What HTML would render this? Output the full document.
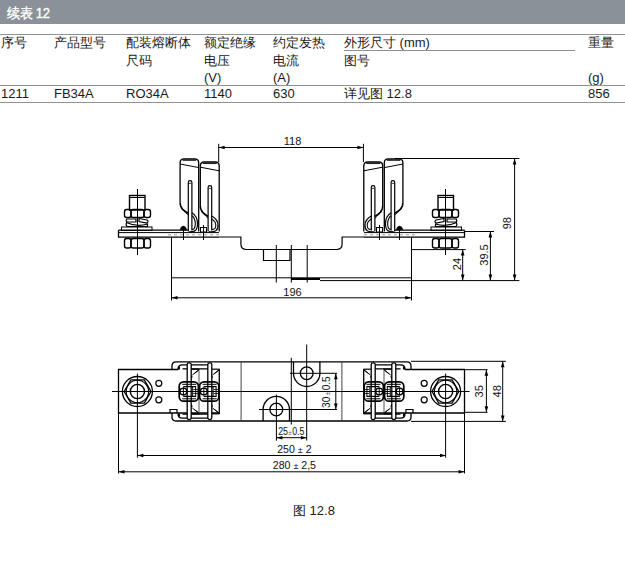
<!DOCTYPE html>
<html><head><meta charset="utf-8">
<style>
html,body{margin:0;padding:0;background:#fff;}
body{width:625px;height:580px;position:relative;overflow:hidden;font-family:"Liberation Sans",sans-serif;color:#1a1a1a;}
.bar{position:absolute;left:0;top:0;width:625px;height:24px;background:#8a9199;}
.bar span{position:absolute;left:7px;top:4px;font-size:13px;color:#fff;letter-spacing:-0.3px;-webkit-text-stroke:0.35px #fff;transform:scaleY(1.08);transform-origin:0 0;}
.hl{position:absolute;left:0;width:625px;height:1px;background:#8d9396;}
.t{position:absolute;font-size:13px;white-space:nowrap;line-height:17.5px;}
svg{position:absolute;left:0;top:0;}
</style></head><body>
<div class="bar"><span>续表 12</span></div>
<div class="hl" style="top:34px"></div>
<div class="hl" style="top:85px"></div>
<div class="hl" style="top:102px"></div>
<div class="hl" style="top:50px;left:344px;width:231px"></div>
<div class="t" style="left:1px;top:34px">序号</div>
<div class="t" style="left:54px;top:34px">产品型号</div>
<div class="t" style="left:126px;top:34px">配装熔断体<br>尺码</div>
<div class="t" style="left:204px;top:34px">额定绝缘<br>电压<br>(V)</div>
<div class="t" style="left:273px;top:34px">约定发热<br>电流<br>(A)</div>
<div class="t" style="left:344px;top:34px">外形尺寸 (mm)<br>图号</div>
<div class="t" style="left:588px;top:34px">重量<br><br>(g)</div>
<div class="t" style="left:1px;top:85px">1211</div>
<div class="t" style="left:54px;top:85px">FB34A</div>
<div class="t" style="left:126px;top:85px">RO34A</div>
<div class="t" style="left:204px;top:85px">1140</div>
<div class="t" style="left:273px;top:85px">630</div>
<div class="t" style="left:344px;top:85px">详见图 12.8</div>
<div class="t" style="left:588px;top:85px">856</div>
<div class="t" style="left:293px;top:502px">图 12.8</div>
<svg width="625" height="580" viewBox="0 0 625 580"><g fill="none" stroke="#000" stroke-width="1"><g><line x1="137.5" y1="189.0" x2="137.5" y2="255.0"/><rect x="129.5" y="195.5" width="15.5" height="14.5" stroke-width="1.4"/><line x1="130.0" y1="197.5" x2="144.5" y2="197.5"/><rect x="124.5" y="209.5" width="6.5" height="8" rx="2.2" stroke-width="1.4"/><rect x="131.0" y="209.5" width="13.0" height="8" rx="2.2" stroke-width="1.4"/><rect x="144.0" y="209.5" width="6.5" height="8" rx="2.2" stroke-width="1.4"/><path d="M127,219 L136,219 L136,222 L127,222 Q125.3,220.5 127,219 Z" stroke-width="1.2"/><path d="M139,218.5 L147,220 Q149,221.5 147,223 L139,221.5 Z" stroke-width="1.2"/><path d="M126.5,222.5 Q137,227.5 147.5,224 L147.5,226.5 L127,226.5 Q125.5,224.5 126.5,222.5 Z" stroke-width="1.2"/><rect x="121.5" y="227" width="30.5" height="3.5" stroke-width="1"/><path d="M118.5,230.2 L188,230.2 M118.5,230.2 L118.5,237.2 L219,237.2" stroke-width="1.3"/><line x1="119.0" y1="232.6" x2="219.0" y2="232.6" stroke-width="1"/><line x1="168.0" y1="234.8" x2="219.0" y2="234.8" stroke-width="0.7" stroke="#777" stroke-dasharray="3,3"/><rect x="124.5" y="238.5" width="6.5" height="9.5" rx="2.2" stroke-width="1.4"/><rect x="131.0" y="238.5" width="13.0" height="9.5" rx="2.2" stroke-width="1.4"/><rect x="144.0" y="238.5" width="6.5" height="9.5" rx="2.2" stroke-width="1.4"/><path d="M180.1,202.8 L180.1,162.8 Q180.1,158.8 184.1,158.8 L194.7,158.8 Q198.7,158.8 198.7,162.8 L198.7,231.5" stroke-width="1.3"/><line x1="182.6" y1="160.0" x2="196.2" y2="160.0" stroke-width="1.7" stroke="#222"/><line x1="180.1" y1="164.0" x2="198.7" y2="167.6" stroke-width="1"/><path d="M180.1,202.8 C180.1,208.8 183.6,210.3 188.3,213.3" stroke-width="1.6"/><path d="M181.4,206.3 C182.3,210.3 184.6,211.8 188.3,215.1" stroke-width="0.9"/><path d="M188.3,231.5 L188.3,182.5 A1.8,1.8 0 0 1 191.9,182.5 L191.9,230.5" stroke-width="1.2"/><path d="M189.0,183.9 A1.3,1.3 0 0 1 191.2,183.9" stroke-width="0.9"/><path d="M191.9,212.8 C197.5,216.3 197.5,220.8 197.5,223.7 C197.5,231.0 194.7,231.8 189.1,231.8" stroke-width="1.2"/><path d="M191.9,215.8 C195.3,218.3 195.3,221.8 195.3,223.7 C195.3,229.0 193.7,229.5 191.9,229.5" stroke-width="1.1"/><path d="M200.3,206.0 L200.3,166.0 Q200.3,162.0 204.3,162.0 L215.2,162.0 Q219.2,162.0 219.2,166.0 L219.2,231.5" stroke-width="1.3"/><line x1="202.8" y1="163.2" x2="216.7" y2="163.2" stroke-width="1.7" stroke="#222"/><line x1="200.3" y1="167.2" x2="219.2" y2="170.8" stroke-width="1"/><path d="M200.3,206.0 C200.3,212.0 203.8,213.5 208.1,216.5" stroke-width="1.6"/><path d="M201.6,209.5 C202.5,213.5 204.8,215.0 208.1,218.3" stroke-width="0.9"/><path d="M208.1,231.5 L208.1,187.5 A1.8,1.8 0 0 1 211.7,187.5 L211.7,230.5" stroke-width="1.2"/><path d="M208.8,188.9 A1.3,1.3 0 0 1 211.0,188.9" stroke-width="0.9"/><path d="M211.7,216.0 C218.0,219.5 218.0,224.0 218.0,225.2 C218.0,231.0 215.2,231.8 208.9,231.8" stroke-width="1.2"/><path d="M211.7,219.0 C215.8,221.5 215.8,225.0 215.8,225.2 C215.8,229.0 214.2,229.5 211.7,229.5" stroke-width="1.1"/><path d="M180.3,229.7 Q180.8,226.3 183.4,226.3 Q186,226.3 186.5,229.7 Z" fill="#000" stroke-width="0.8"/><line x1="183.5" y1="226.0" x2="183.5" y2="240.0"/><rect x="200.5" y="227.5" width="6" height="4.5" stroke-width="1"/><line x1="203.5" y1="225.0" x2="203.5" y2="240.0"/><path d="M219,237 L240.9,237 L240.9,244 Q240.9,249.5 246.5,249.5 L291.5,249.5" stroke-width="1.2"/><line x1="171.5" y1="237.5" x2="171.5" y2="300.5"/><line x1="171.5" y1="277.8" x2="291.5" y2="277.8"/></g><g transform="translate(583.0,0) scale(-1,1)"><line x1="137.5" y1="189.0" x2="137.5" y2="255.0"/><rect x="129.5" y="195.5" width="15.5" height="14.5" stroke-width="1.4"/><line x1="130.0" y1="197.5" x2="144.5" y2="197.5"/><rect x="124.5" y="209.5" width="6.5" height="8" rx="2.2" stroke-width="1.4"/><rect x="131.0" y="209.5" width="13.0" height="8" rx="2.2" stroke-width="1.4"/><rect x="144.0" y="209.5" width="6.5" height="8" rx="2.2" stroke-width="1.4"/><path d="M127,219 L136,219 L136,222 L127,222 Q125.3,220.5 127,219 Z" stroke-width="1.2"/><path d="M139,218.5 L147,220 Q149,221.5 147,223 L139,221.5 Z" stroke-width="1.2"/><path d="M126.5,222.5 Q137,227.5 147.5,224 L147.5,226.5 L127,226.5 Q125.5,224.5 126.5,222.5 Z" stroke-width="1.2"/><rect x="121.5" y="227" width="30.5" height="3.5" stroke-width="1"/><path d="M118.5,230.2 L188,230.2 M118.5,230.2 L118.5,237.2 L219,237.2" stroke-width="1.3"/><line x1="119.0" y1="232.6" x2="219.0" y2="232.6" stroke-width="1"/><line x1="168.0" y1="234.8" x2="219.0" y2="234.8" stroke-width="0.7" stroke="#777" stroke-dasharray="3,3"/><rect x="124.5" y="238.5" width="6.5" height="9.5" rx="2.2" stroke-width="1.4"/><rect x="131.0" y="238.5" width="13.0" height="9.5" rx="2.2" stroke-width="1.4"/><rect x="144.0" y="238.5" width="6.5" height="9.5" rx="2.2" stroke-width="1.4"/><path d="M180.1,202.8 L180.1,162.8 Q180.1,158.8 184.1,158.8 L194.7,158.8 Q198.7,158.8 198.7,162.8 L198.7,231.5" stroke-width="1.3"/><line x1="182.6" y1="160.0" x2="196.2" y2="160.0" stroke-width="1.7" stroke="#222"/><line x1="180.1" y1="164.0" x2="198.7" y2="167.6" stroke-width="1"/><path d="M180.1,202.8 C180.1,208.8 183.6,210.3 188.3,213.3" stroke-width="1.6"/><path d="M181.4,206.3 C182.3,210.3 184.6,211.8 188.3,215.1" stroke-width="0.9"/><path d="M188.3,231.5 L188.3,182.5 A1.8,1.8 0 0 1 191.9,182.5 L191.9,230.5" stroke-width="1.2"/><path d="M189.0,183.9 A1.3,1.3 0 0 1 191.2,183.9" stroke-width="0.9"/><path d="M191.9,212.8 C197.5,216.3 197.5,220.8 197.5,223.7 C197.5,231.0 194.7,231.8 189.1,231.8" stroke-width="1.2"/><path d="M191.9,215.8 C195.3,218.3 195.3,221.8 195.3,223.7 C195.3,229.0 193.7,229.5 191.9,229.5" stroke-width="1.1"/><path d="M200.3,206.0 L200.3,166.0 Q200.3,162.0 204.3,162.0 L215.2,162.0 Q219.2,162.0 219.2,166.0 L219.2,231.5" stroke-width="1.3"/><line x1="202.8" y1="163.2" x2="216.7" y2="163.2" stroke-width="1.7" stroke="#222"/><line x1="200.3" y1="167.2" x2="219.2" y2="170.8" stroke-width="1"/><path d="M200.3,206.0 C200.3,212.0 203.8,213.5 208.1,216.5" stroke-width="1.6"/><path d="M201.6,209.5 C202.5,213.5 204.8,215.0 208.1,218.3" stroke-width="0.9"/><path d="M208.1,231.5 L208.1,187.5 A1.8,1.8 0 0 1 211.7,187.5 L211.7,230.5" stroke-width="1.2"/><path d="M208.8,188.9 A1.3,1.3 0 0 1 211.0,188.9" stroke-width="0.9"/><path d="M211.7,216.0 C218.0,219.5 218.0,224.0 218.0,225.2 C218.0,231.0 215.2,231.8 208.9,231.8" stroke-width="1.2"/><path d="M211.7,219.0 C215.8,221.5 215.8,225.0 215.8,225.2 C215.8,229.0 214.2,229.5 211.7,229.5" stroke-width="1.1"/><path d="M180.3,229.7 Q180.8,226.3 183.4,226.3 Q186,226.3 186.5,229.7 Z" fill="#000" stroke-width="0.8"/><line x1="183.5" y1="226.0" x2="183.5" y2="240.0"/><rect x="200.5" y="227.5" width="6" height="4.5" stroke-width="1"/><line x1="203.5" y1="225.0" x2="203.5" y2="240.0"/><path d="M219,237 L240.9,237 L240.9,244 Q240.9,249.5 246.5,249.5 L291.5,249.5" stroke-width="1.2"/><line x1="171.5" y1="237.5" x2="171.5" y2="300.5"/><line x1="171.5" y1="277.8" x2="291.5" y2="277.8"/></g><path d="M263.5,249.5 L263.5,260.5 L290,260.5 L290,249.5" stroke-width="1.2"/><line x1="276.3" y1="245.0" x2="276.3" y2="282.5"/><line x1="291.3" y1="245.0" x2="291.3" y2="282.5"/><line x1="307.2" y1="245.0" x2="307.2" y2="282.5"/><line x1="320.0" y1="280.6" x2="519.4" y2="280.6"/><line x1="291.0" y1="279.0" x2="320.0" y2="279.0" stroke-width="2"/><line x1="218.7" y1="143.8" x2="218.7" y2="162.0"/><line x1="363.4" y1="143.8" x2="363.4" y2="162.0"/><line x1="218.7" y1="147.5" x2="363.4" y2="147.5"/><polygon points="218.7,147.5 224.7,145.7 224.7,149.3" fill="#000" stroke="none"/><polygon points="363.4,147.5 357.4,145.7 357.4,149.3" fill="#000" stroke="none"/><line x1="171.5" y1="297.8" x2="411.3" y2="297.8"/><polygon points="171.5,297.8 177.5,296.0 177.5,299.6" fill="#000" stroke="none"/><polygon points="411.3,297.8 405.3,296.0 405.3,299.6" fill="#000" stroke="none"/><line x1="395.0" y1="158.5" x2="519.4" y2="158.5"/><line x1="514.6" y1="158.5" x2="514.6" y2="280.6"/><polygon points="514.6,158.5 512.8,164.5 516.4,164.5" fill="#000" stroke="none"/><polygon points="514.6,280.6 512.8,274.6 516.4,274.6" fill="#000" stroke="none"/><line x1="465.0" y1="231.5" x2="494.0" y2="231.5"/><line x1="490.4" y1="231.5" x2="490.4" y2="280.6"/><polygon points="490.4,231.5 488.6,237.5 492.2,237.5" fill="#000" stroke="none"/><polygon points="490.4,280.6 488.6,274.6 492.2,274.6" fill="#000" stroke="none"/><line x1="411.0" y1="249.6" x2="465.6" y2="249.6"/><line x1="462.7" y1="249.6" x2="462.7" y2="280.6"/><polygon points="462.7,249.6 460.9,255.6 464.5,255.6" fill="#000" stroke="none"/><polygon points="462.7,280.6 460.9,274.6 464.5,274.6" fill="#000" stroke="none"/><g><path d="M178,369.5 L118.5,369.5 L118.5,413 L170,413" stroke-width="1.3"/><line x1="118.5" y1="413.0" x2="118.5" y2="473.4"/><line x1="170.0" y1="413.0" x2="219.3" y2="413.0" stroke-width="1.3"/><path d="M170,413 L170,409.5 L177,409.5 L177,413" stroke-width="1.2"/><path d="M291.5,361.8 L176,361.8 Q172,361.8 172,366 L172,369.5" stroke-width="1.3"/><path d="M172,413 L172,417 Q172,421 176,421 L291.5,421" stroke-width="1.3"/><line x1="241.1" y1="361.8" x2="241.1" y2="421.0" stroke="#444"/><circle cx="137.4" cy="391.5" r="15" stroke-width="1.3"/><polygon points="151.00,391.50 144.30,403.10 130.90,403.10 124.20,391.50 130.90,379.90 144.30,379.90" stroke-width="1.3"/><circle cx="137.4" cy="391.5" r="11.2" stroke-width="1.1"/><circle cx="137.4" cy="391.5" r="7.1" stroke-width="1.4"/><line x1="137.4" y1="373.6" x2="137.4" y2="457.7"/><circle cx="158.8" cy="383.3" r="3" stroke-width="1.2"/><circle cx="158.8" cy="399.8" r="3" stroke-width="1.2"/><path d="M178,369.5 Q178,364.8 182.5,364.8 L208,364.8 M182.5,368.8 L208,368.8" stroke-width="1.3"/><path d="M178,413.5 Q178,418.2 182.5,418.2 L208,418.2 M182.5,414.2 L208,414.2" stroke-width="1.3"/><line x1="179.0" y1="366.5" x2="179.0" y2="369.5" stroke-width="2"/><line x1="179.0" y1="413.5" x2="179.0" y2="416.5" stroke-width="2"/><line x1="219.3" y1="369.2" x2="219.3" y2="413.8" stroke-width="1.3"/><line x1="199.0" y1="369.0" x2="199.0" y2="413.0" stroke="#555"/><line x1="191.4" y1="369.2" x2="199.4" y2="369.2" stroke-width="1.2"/><line x1="191.4" y1="413.8" x2="199.4" y2="413.8" stroke-width="1.2"/><path d="M192.4,375 L197.9,370.5 M194.4,373.5 L198.9,370" stroke-width="1"/><path d="M192.4,408 L197.9,412.5 M194.4,409.5 L198.9,413" stroke-width="1"/><path d="M187.4,381.5 L192.4,376.5 M187.4,401.5 L192.4,406.5" stroke-width="1.2"/><line x1="211.6" y1="369.2" x2="219.6" y2="369.2" stroke-width="1.2"/><line x1="211.6" y1="413.8" x2="219.6" y2="413.8" stroke-width="1.2"/><path d="M212.6,375 L218.1,370.5 M214.6,373.5 L219.1,370" stroke-width="1"/><path d="M212.6,408 L218.1,412.5 M214.6,409.5 L219.1,413" stroke-width="1"/><path d="M207.6,381.5 L212.6,376.5 M207.6,401.5 L212.6,406.5" stroke-width="1.2"/><rect x="187.2" y="362.8" width="4" height="56.8" rx="1.8" fill="#fff" stroke-width="1.3"/><rect x="207.8" y="362.8" width="4" height="56.8" rx="1.8" fill="#fff" stroke-width="1.3"/><rect x="179.2" y="381.8" width="19.2" height="19.4" rx="4.5" stroke-width="1.7"/><line x1="182.2" y1="384.3" x2="196.2" y2="384.3"/><line x1="183.2" y1="386.6" x2="196.2" y2="386.6" stroke-width="1.3"/><line x1="182.2" y1="398.8" x2="196.2" y2="398.8"/><line x1="183.2" y1="396.4" x2="196.2" y2="396.4" stroke-width="1.3"/><circle cx="183.4" cy="391.5" r="3.4" stroke-width="1.4"/><line x1="183.4" y1="387.5" x2="183.4" y2="395.5"/><line x1="192.7" y1="387.0" x2="192.7" y2="396.0"/><line x1="195.7" y1="387.0" x2="195.7" y2="396.0"/><line x1="193.2" y1="389.5" x2="198.2" y2="389.5" stroke-width="0.8"/><line x1="193.2" y1="393.5" x2="198.2" y2="393.5" stroke-width="0.8"/><rect x="199.6" y="381.8" width="19.2" height="19.4" rx="4.5" stroke-width="1.7"/><line x1="202.6" y1="384.3" x2="216.6" y2="384.3"/><line x1="203.6" y1="386.6" x2="216.6" y2="386.6" stroke-width="1.3"/><line x1="202.6" y1="398.8" x2="216.6" y2="398.8"/><line x1="203.6" y1="396.4" x2="216.6" y2="396.4" stroke-width="1.3"/><circle cx="203.8" cy="391.5" r="3.4" stroke-width="1.4"/><line x1="203.8" y1="387.5" x2="203.8" y2="395.5"/><line x1="213.1" y1="387.0" x2="213.1" y2="396.0"/><line x1="216.1" y1="387.0" x2="216.1" y2="396.0"/><line x1="213.6" y1="389.5" x2="218.6" y2="389.5" stroke-width="0.8"/><line x1="213.6" y1="393.5" x2="218.6" y2="393.5" stroke-width="0.8"/></g><g transform="translate(583.0,0) scale(-1,1)"><path d="M178,369.5 L118.5,369.5 L118.5,413 L170,413" stroke-width="1.3"/><line x1="118.5" y1="413.0" x2="118.5" y2="473.4"/><line x1="170.0" y1="413.0" x2="219.3" y2="413.0" stroke-width="1.3"/><path d="M170,413 L170,409.5 L177,409.5 L177,413" stroke-width="1.2"/><path d="M291.5,361.8 L176,361.8 Q172,361.8 172,366 L172,369.5" stroke-width="1.3"/><path d="M172,413 L172,417 Q172,421 176,421 L291.5,421" stroke-width="1.3"/><line x1="241.1" y1="361.8" x2="241.1" y2="421.0" stroke="#444"/><circle cx="137.4" cy="391.5" r="15" stroke-width="1.3"/><polygon points="151.00,391.50 144.30,403.10 130.90,403.10 124.20,391.50 130.90,379.90 144.30,379.90" stroke-width="1.3"/><circle cx="137.4" cy="391.5" r="11.2" stroke-width="1.1"/><circle cx="137.4" cy="391.5" r="7.1" stroke-width="1.4"/><line x1="137.4" y1="373.6" x2="137.4" y2="457.7"/><circle cx="158.8" cy="383.3" r="3" stroke-width="1.2"/><circle cx="158.8" cy="399.8" r="3" stroke-width="1.2"/><path d="M178,369.5 Q178,364.8 182.5,364.8 L208,364.8 M182.5,368.8 L208,368.8" stroke-width="1.3"/><path d="M178,413.5 Q178,418.2 182.5,418.2 L208,418.2 M182.5,414.2 L208,414.2" stroke-width="1.3"/><line x1="179.0" y1="366.5" x2="179.0" y2="369.5" stroke-width="2"/><line x1="179.0" y1="413.5" x2="179.0" y2="416.5" stroke-width="2"/><line x1="219.3" y1="369.2" x2="219.3" y2="413.8" stroke-width="1.3"/><line x1="199.0" y1="369.0" x2="199.0" y2="413.0" stroke="#555"/><line x1="191.4" y1="369.2" x2="199.4" y2="369.2" stroke-width="1.2"/><line x1="191.4" y1="413.8" x2="199.4" y2="413.8" stroke-width="1.2"/><path d="M192.4,375 L197.9,370.5 M194.4,373.5 L198.9,370" stroke-width="1"/><path d="M192.4,408 L197.9,412.5 M194.4,409.5 L198.9,413" stroke-width="1"/><path d="M187.4,381.5 L192.4,376.5 M187.4,401.5 L192.4,406.5" stroke-width="1.2"/><line x1="211.6" y1="369.2" x2="219.6" y2="369.2" stroke-width="1.2"/><line x1="211.6" y1="413.8" x2="219.6" y2="413.8" stroke-width="1.2"/><path d="M212.6,375 L218.1,370.5 M214.6,373.5 L219.1,370" stroke-width="1"/><path d="M212.6,408 L218.1,412.5 M214.6,409.5 L219.1,413" stroke-width="1"/><path d="M207.6,381.5 L212.6,376.5 M207.6,401.5 L212.6,406.5" stroke-width="1.2"/><rect x="187.2" y="362.8" width="4" height="56.8" rx="1.8" fill="#fff" stroke-width="1.3"/><rect x="207.8" y="362.8" width="4" height="56.8" rx="1.8" fill="#fff" stroke-width="1.3"/><rect x="179.2" y="381.8" width="19.2" height="19.4" rx="4.5" stroke-width="1.7"/><line x1="182.2" y1="384.3" x2="196.2" y2="384.3"/><line x1="183.2" y1="386.6" x2="196.2" y2="386.6" stroke-width="1.3"/><line x1="182.2" y1="398.8" x2="196.2" y2="398.8"/><line x1="183.2" y1="396.4" x2="196.2" y2="396.4" stroke-width="1.3"/><circle cx="183.4" cy="391.5" r="3.4" stroke-width="1.4"/><line x1="183.4" y1="387.5" x2="183.4" y2="395.5"/><line x1="192.7" y1="387.0" x2="192.7" y2="396.0"/><line x1="195.7" y1="387.0" x2="195.7" y2="396.0"/><line x1="193.2" y1="389.5" x2="198.2" y2="389.5" stroke-width="0.8"/><line x1="193.2" y1="393.5" x2="198.2" y2="393.5" stroke-width="0.8"/><rect x="199.6" y="381.8" width="19.2" height="19.4" rx="4.5" stroke-width="1.7"/><line x1="202.6" y1="384.3" x2="216.6" y2="384.3"/><line x1="203.6" y1="386.6" x2="216.6" y2="386.6" stroke-width="1.3"/><line x1="202.6" y1="398.8" x2="216.6" y2="398.8"/><line x1="203.6" y1="396.4" x2="216.6" y2="396.4" stroke-width="1.3"/><circle cx="203.8" cy="391.5" r="3.4" stroke-width="1.4"/><line x1="203.8" y1="387.5" x2="203.8" y2="395.5"/><line x1="213.1" y1="387.0" x2="213.1" y2="396.0"/><line x1="216.1" y1="387.0" x2="216.1" y2="396.0"/><line x1="213.6" y1="389.5" x2="218.6" y2="389.5" stroke-width="0.8"/><line x1="213.6" y1="393.5" x2="218.6" y2="393.5" stroke-width="0.8"/></g><line x1="112.0" y1="391.5" x2="469.6" y2="391.5"/><line x1="291.3" y1="357.8" x2="291.3" y2="424.5"/><circle cx="306.7" cy="373.3" r="6.4" stroke-width="1.3"/><path d="M293.5,361.8 L293.5,373.3 A13.2,13.2 0 0 0 319.9,373.3 L319.9,361.8" stroke-width="1.3"/><circle cx="276.3" cy="409.5" r="6.4" stroke-width="1.3"/><path d="M263.1,421 L263.1,409.5 A13.2,13.2 0 0 1 289.5,409.5 L289.5,421" stroke-width="1.3"/><line x1="290.0" y1="373.3" x2="337.0" y2="373.3"/><line x1="259.0" y1="409.5" x2="337.0" y2="409.5"/><line x1="306.7" y1="344.5" x2="306.7" y2="440.6"/><line x1="276.4" y1="394.6" x2="276.4" y2="440.6"/><line x1="335.8" y1="373.3" x2="335.8" y2="409.5"/><polygon points="335.8,373.3 334.0,379.3 337.6,379.3" fill="#000" stroke="none"/><polygon points="335.8,409.5 334.0,403.5 337.6,403.5" fill="#000" stroke="none"/><line x1="276.4" y1="437.7" x2="306.8" y2="437.7"/><polygon points="276.4,437.7 282.4,435.9 282.4,439.5" fill="#000" stroke="none"/><polygon points="306.8,437.7 300.8,435.9 300.8,439.5" fill="#000" stroke="none"/><line x1="137.4" y1="455.5" x2="446.0" y2="455.5"/><polygon points="137.4,455.5 143.4,453.7 143.4,457.3" fill="#000" stroke="none"/><polygon points="446.0,455.5 440.0,453.7 440.0,457.3" fill="#000" stroke="none"/><line x1="118.5" y1="471.8" x2="464.5" y2="471.8"/><polygon points="118.5,471.8 124.5,470.0 124.5,473.6" fill="#000" stroke="none"/><polygon points="464.5,471.8 458.5,470.0 458.5,473.6" fill="#000" stroke="none"/><line x1="411.0" y1="361.3" x2="505.9" y2="361.3"/><line x1="411.0" y1="421.4" x2="505.9" y2="421.4"/><line x1="502.7" y1="361.3" x2="502.7" y2="421.4"/><polygon points="502.7,361.3 500.9,367.3 504.5,367.3" fill="#000" stroke="none"/><polygon points="502.7,421.4 500.9,415.4 504.5,415.4" fill="#000" stroke="none"/><line x1="464.5" y1="369.7" x2="487.5" y2="369.7"/><line x1="464.5" y1="412.3" x2="487.5" y2="412.3"/><line x1="486.4" y1="369.7" x2="486.4" y2="412.3"/><polygon points="486.4,369.7 484.6,375.7 488.2,375.7" fill="#000" stroke="none"/><polygon points="486.4,412.3 484.6,406.3 488.2,406.3" fill="#000" stroke="none"/></g><g fill="#111" font-family="Liberation Sans, sans-serif"><text x="292.6" y="144.5" font-size="11" text-anchor="middle">118</text><text x="292.5" y="295.5" font-size="11" text-anchor="middle">196</text><text transform="translate(510.5,223.2) rotate(-90)" font-size="11" text-anchor="middle">98</text><text transform="translate(488.4,255) rotate(-90)" font-size="11" text-anchor="middle">39.5</text><text transform="translate(460.5,264) rotate(-90)" font-size="11" text-anchor="middle">24</text><text transform="translate(329.9,392.1) rotate(-90) scale(0.92,1)" font-size="11" text-anchor="middle">30<tspan font-size="8" fill="#666" dx="1.3">±</tspan><tspan dx="1.3">0.5</tspan></text><text transform="translate(291.3,434.7) scale(0.8,1)" font-size="11" text-anchor="middle">25<tspan font-size="8" fill="#666" dx="0.5">±</tspan><tspan dx="0.5">0.5</tspan></text><text x="294.4" y="452.6" font-size="10.6" text-anchor="middle">250 <tspan font-size="9">±</tspan> 2</text><text x="294.4" y="469.4" font-size="10.6" text-anchor="middle">280 <tspan font-size="9">±</tspan> 2,5</text><text transform="translate(483,391.3) rotate(-90)" font-size="11" text-anchor="middle">35</text><text transform="translate(500.5,391.3) rotate(-90)" font-size="11" text-anchor="middle">48</text></g></svg>
</body></html>
